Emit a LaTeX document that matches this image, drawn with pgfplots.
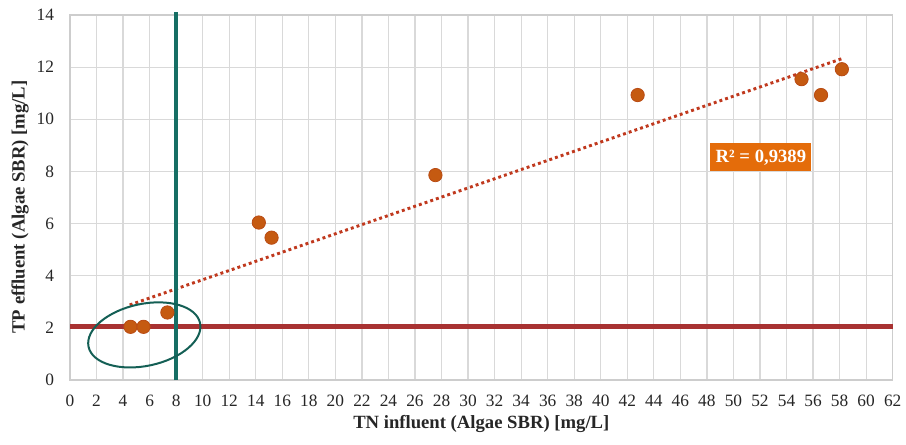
\documentclass[border=0pt]{standalone}
\usepackage{fontspec}
\setmainfont{Liberation Serif}
\usepackage{pgfplots}
\pgfplotsset{compat=1.18}
\definecolor{gridc}{RGB}{217,217,217}
\definecolor{axc}{RGB}{205,205,205}
\definecolor{mfill}{RGB}{197,90,17}
\definecolor{mdraw}{RGB}{185,75,20}
\definecolor{trend}{RGB}{192,57,30}
\definecolor{redl}{RGB}{168,50,50}
\definecolor{teal1}{RGB}{22,110,100}
\definecolor{ell}{RGB}{20,95,85}
\definecolor{rbox}{RGB}{228,108,10}
\begin{document}
\begin{tikzpicture}
\begin{axis}[
  scale only axis, width=617pt, height=273.75pt,
  xmin=0, xmax=62, ymin=0, ymax=14,
  xtick={0,2,...,62}, ytick={0,2,...,14},
  grid=major, major grid style={gridc, line width=0.9pt},
  axis line style={axc, line width=0.9pt},
  major tick length=0pt,
  tick label style={font=\fontsize{13}{15}\selectfont, text=black!85},
  /pgf/number format/assume math mode=true,
  xticklabel style={yshift=-8pt},
  yticklabel style={xshift=-8.5pt},
  clip=false,
]
\addplot[trend, line width=2.2pt, dash pattern=on 2.2pt off 2.3pt, forget plot] coordinates {(4.5,2.88) (58.2,12.33)};
\addplot[redl, line width=3.75pt, forget plot] coordinates {(0,2.07) (62,2.07)};
\addplot[teal1, line width=3pt, forget plot] coordinates {(8,0) (8,14.1)};
\addplot[only marks, mark=*, mark size=5pt, mark options={fill=mfill, draw=mdraw, line width=0.6pt}] coordinates {
  (4.56,2.04) (5.54,2.04) (7.34,2.59) (14.23,6.04) (15.19,5.46) (27.54,7.86)
  (42.78,10.93) (55.13,11.54) (56.6,10.93) (58.17,11.92)};
\node[fill=rbox, text=white, font=\bfseries\fontsize{14}{16}\selectfont, inner xsep=4pt, inner ysep=0pt, minimum height=21pt] at (axis cs:52.07,8.54) {R² = 0,9389};
\coordinate (SW) at (rel axis cs:0,0);
\coordinate (NE) at (rel axis cs:1,1);
\coordinate (XL) at (rel axis cs:0.5,0);
\coordinate (YL) at (rel axis cs:0,0.474);
\coordinate (EC) at (axis cs:5.6,1.73);
\end{axis}
\draw[ell, line width=1.5pt, rotate around={12:(EC)}] (EC) ellipse [x radius=42.75pt, y radius=23.25pt];
\node[font=\bfseries\fontsize{14}{16}\selectfont, text=black!85] at ([yshift=-33pt]XL) {TN influent (Algae SBR) [mg/L]};
\node[rotate=90, font=\bfseries\fontsize{14}{16}\selectfont, text=black!85] at ([xshift=-37.5pt]YL) {TP effluent (Algae SBR) [mg/L]};
\pgfresetboundingbox
\path ([shift={(-52.5pt,-48pt)}]SW) rectangle ([shift={(10pt,11.25pt)}]NE);
\end{tikzpicture}
\end{document}
